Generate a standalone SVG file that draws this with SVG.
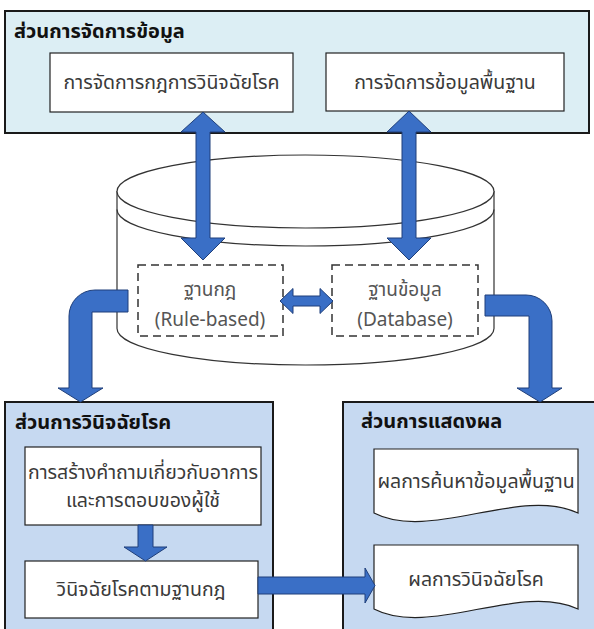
<svg xmlns="http://www.w3.org/2000/svg" width="594" height="629" viewBox="0 0 594 629">
<style>
text{font-family:"Noto Sans Thai","Leelawadee UI",Tahoma,"Noto Sans","DejaVu Sans",sans-serif;}
.title{font-size:20px;font-weight:bold;fill:#111;}
.lbl{font-size:19.5px;fill:#3a3a3a;text-anchor:middle;}
.db{font-size:19px;fill:#555;text-anchor:middle;}
.panelA{fill:#DCEEF4;stroke:#1a1a1a;stroke-width:2;}
.panelB{fill:#C6D9F1;stroke:#1a1a1a;stroke-width:2;}
.box{fill:#fff;stroke:#222;stroke-width:1.2;}
.dash{fill:#fff;stroke:#333;stroke-width:1.5;stroke-dasharray:8 5;}
.cyl{fill:#fff;stroke:#333;stroke-width:1.2;}
.arr{fill:#3A6FC6;stroke:#1F3F7A;stroke-width:1;}
</style>
<g id="panel-data">
<rect class="panelA" x="5" y="11" width="584" height="122"/>
<text class="title" x="14" y="38">ส่วนการจัดการข้อมูล</text>
</g>
<g id="box-rules">
<rect class="box" x="50" y="53" width="243" height="59"/>
<text class="lbl" x="171.5" y="89">การจัดการกฎการวินิจฉัยโรค</text>
</g>
<g id="box-basic">
<rect class="box" x="326" y="53" width="238" height="58"/>
<text class="lbl" x="445" y="89">การจัดการข้อมูลพื้นฐาน</text>
</g>
<g id="cylinder">
<path class="cyl" d="M117,191.5 V328.5 A188.5,36.5 0 0 0 494,328.5 V191.5 Z"/>
<ellipse class="cyl" cx="305.5" cy="191.5" rx="188.5" ry="36.5"/>
<path fill="none" stroke="#333" stroke-width="1.2" d="M117,209.5 A188.5,36.5 0 0 0 494,209.5"/>
</g>
<g id="rulebase">
<rect class="dash" x="138" y="265" width="145" height="71"/>
<text class="db" x="210" y="296">ฐานกฎ</text>
<text class="db" x="210" y="326">(Rule-based)</text>
</g>
<g id="database">
<rect class="dash" x="332" y="265" width="146" height="71"/>
<text class="db" x="405" y="296">ฐานข้อมูล</text>
<text class="db" x="405" y="326">(Database)</text>
</g>
<g id="panel-diagnosis">
<rect class="panelB" x="5" y="402" width="268" height="240"/>
<text class="title" x="15" y="429">ส่วนการวินิจฉัยโรค</text>
</g>
<g id="box-question">
<rect class="box" x="25" y="447" width="236" height="78"/>
<text class="lbl" x="143" y="479">การสร้างคำถามเกี่ยวกับอาการ</text>
<text class="lbl" x="143" y="507">และการตอบของผู้ใช้</text>
</g>
<g id="box-diagnose">
<rect class="box" x="25" y="561" width="233" height="57"/>
<text class="lbl" x="141" y="596">วินิจฉัยโรคตามฐานกฎ</text>
</g>
<g id="panel-display">
<rect class="panelB" x="343" y="402" width="260" height="240"/>
<text class="title" x="361" y="428">ส่วนการแสดงผล</text>
</g>
<g id="doc-search">
<path class="box" d="M374,449 H578 V513 C520,486 430,542 374,513 Z"/>
<text class="lbl" x="476" y="488">ผลการค้นหาข้อมูลพื้นฐาน</text>
</g>
<g id="doc-result">
<path class="box" d="M374,545 H578 V609 C520,582 430,638 374,609 Z"/>
<text class="lbl" x="476" y="586">ผลการวินิจฉัยโรค</text>
</g>
<g id="connectors">
<path class="arr" d="M203,112 L225,132 H210 V238 H225 L203,260 L181,238 H196 V132 H181 Z"/>
<path class="arr" d="M409,111 L431,132 H416 V238 H431 L409,260 L387,238 H402 V132 H387 Z"/>
<path class="arr" d="M280,301 L293,288.5 V296 H320 V288.5 L333,301 L320,313.5 V306 H293 V313.5 Z"/>
<path class="arr" d="M128,290 H95 A26,26 0 0 0 69,316 V388 H58 L80.5,402 L103,388 H92 V312 H128 Z"/>
<path class="arr" d="M485,295 H526 A26,26 0 0 1 552,321 V388 H562 L540,402 L517,388 H529 V316 H485 Z"/>
<path class="arr" d="M138,525 H153 V547 H167 L145.5,561 L124,547 H138 Z"/>
<path class="arr" d="M258,577 H365 V568 L375,585.5 L365,603 V594 H258 Z"/>
</g>
</svg>
